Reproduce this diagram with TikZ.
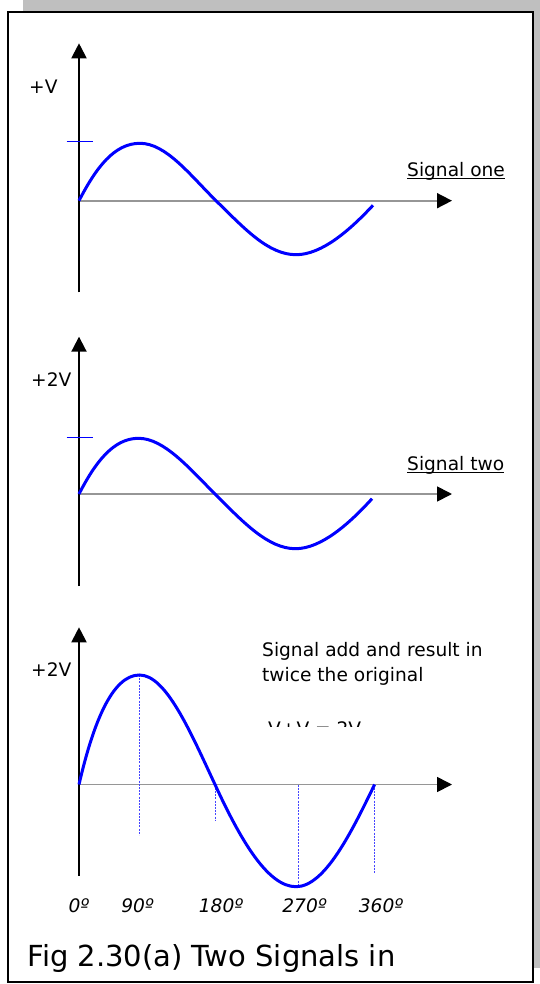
\documentclass[tikz,border=0pt]{standalone}
\usepackage{fontspec}
\setmainfont{DejaVu Sans}
\usetikzlibrary{arrows.meta}
\tikzset{
  axisv/.style={line width=2pt, black, -{Triangle[length=15pt,width=15pt]}},
  axish/.style={line width=1.7pt, color={rgb,255:red,150;green,150;blue,150}, -{Triangle[length=15pt,width=15pt,color=black]}},
  wave/.style={line width=3pt, color={rgb,255:red,0;green,0;blue,255}},
  tickmark/.style={line width=1pt, color={rgb,255:red,0;green,0;blue,255}},
  guide/.style={line width=1pt, color={rgb,255:red,70;green,70;blue,255}, dash pattern=on 2pt off 1.2pt},
  lbl/.style={inner sep=0pt, font=\fontsize{18.6}{26.5}\selectfont},
  deg/.style={inner sep=0pt, anchor=base, font=\fontsize{18.6}{26.5}\selectfont\itshape},
}
\begin{document}
\begin{tikzpicture}[x=1pt,y=-1pt]
\useasboundingbox (0,0) rectangle (540,984);
% shadow and frame
\fill[color={rgb,255:red,191;green,191;blue,191}] (22.7,0) rectangle (540,968);
\draw[line width=2.2pt, fill=white] (7.6,12.4) rectangle (532.7,982);

% ---------- Panel 1 ----------
\coordinate (o1) at (79,200.7);
\coordinate (v1b) at (79,292.3);
\coordinate (v1t) at (79,43.3);
\coordinate (h1e) at (452,200.7);
\draw[axish] (o1) -- (h1e);
\draw[axisv] (v1b) -- (v1t);
\coordinate (t1a) at (66.5,141.3);
\coordinate (t1b) at (93,141.3);
\draw[tickmark] (t1a) -- (t1b);
\draw[wave] (o1) .. controls (96,168) and (114,143.3) .. (140,143.3)
  .. controls (166,143.3) and (190,175) .. (216,200.7)
  .. controls (244,228) and (268,254.7) .. (296,254.7)
  .. controls (322,254.7) and (350,230) .. (373,205.3);
\node[lbl, anchor=base west] (pv1) at (29,93.3) {+V};
\node[lbl, anchor=base west] (s1) at (407,176.7) {Signal one};
\draw[line width=0.9pt] ([yshift=-2.2pt]s1.base west) -- ([yshift=-2.2pt]s1.base east);

% ---------- Panel 2 ----------
\coordinate (o2) at (79,494);
\coordinate (v2b) at (79,586);
\coordinate (v2t) at (79,336.7);
\coordinate (h2e) at (452,494);
\draw[axish] (o2) -- (h2e);
\draw[axisv] (v2b) -- (v2t);
\coordinate (t2a) at (66.5,437);
\coordinate (t2b) at (92.5,437);
\draw[tickmark] (t2a) -- (t2b);
\draw[wave] (o2) .. controls (95,463) and (113,438.3) .. (138.5,438.3)
  .. controls (164,438.3) and (189,468) .. (215,494)
  .. controls (243,522) and (268,548.7) .. (295.5,548.7)
  .. controls (321,548.7) and (349,524) .. (372,498.7);
\node[lbl, anchor=base west] (pv2) at (31,386.7) {+2V};
\node[lbl, anchor=base west] (s2) at (407,470.7) {Signal two};
\draw[line width=0.9pt] ([yshift=-2.2pt]s2.base west) -- ([yshift=-2.2pt]s2.base east);

% ---------- Panel 3 ----------
\coordinate (o3) at (79,784.5);
\coordinate (v3b) at (79,875.7);
\coordinate (v3t) at (79,627.3);
\coordinate (h3e) at (452,784.5);
\draw[axish] (o3) -- (h3e);
\draw[axisv] (v3b) -- (v3t);
% guides
\coordinate (g1t) at (139.5,675);  \coordinate (g1b) at (139.5,835);
\coordinate (g2t) at (215,784.5);  \coordinate (g2b) at (215,820.7);
\coordinate (g3t) at (298,784.5);  \coordinate (g3b) at (298,886.7);
\coordinate (g4t) at (374.6,784.5);\coordinate (g4b) at (374.6,873.3);
\draw[guide] (g1t) -- (g1b);
\draw[guide] (g2t) -- (g2b);
\draw[guide] (g3t) -- (g3b);
\draw[guide] (g4t) -- (g4b);
\draw[wave] (o3) .. controls (93,724) and (112,675) .. (139.5,675)
  .. controls (166,675) and (190,731) .. (215,784.5)
  .. controls (241,841) and (268,886.7) .. (296,886.7)
  .. controls (325,886.7) and (352,831) .. (374.6,784.5);
\node[lbl, anchor=base west] (pv3) at (31,676.7) {+2V};
\node[lbl, anchor=base west] (ta) at (262,656) {Signal add and result in};
\node[lbl, anchor=base west] (tb) at (262,681.7) {twice the original};
\begin{scope}
  \clip (250,700) rectangle (420,726);
  \node[lbl, anchor=base west] (tc) at (268,735.3) {V+V = 2V};
\end{scope}
% degree labels
\node[deg] (d0) at (78.8,912) {0º};
\node[deg] (d90) at (137.5,912) {90º};
\node[deg] (d180) at (221,912) {180º};
\node[deg] (d270) at (304.5,912) {270º};
\node[deg] (d360) at (381,912) {360º};
% caption
\node[inner sep=0pt, anchor=base west, font=\fontsize{29}{34}\selectfont] (cap) at (27.3,966.7) {Fig 2.30(a) Two Signals in};
\end{tikzpicture}
\end{document}
